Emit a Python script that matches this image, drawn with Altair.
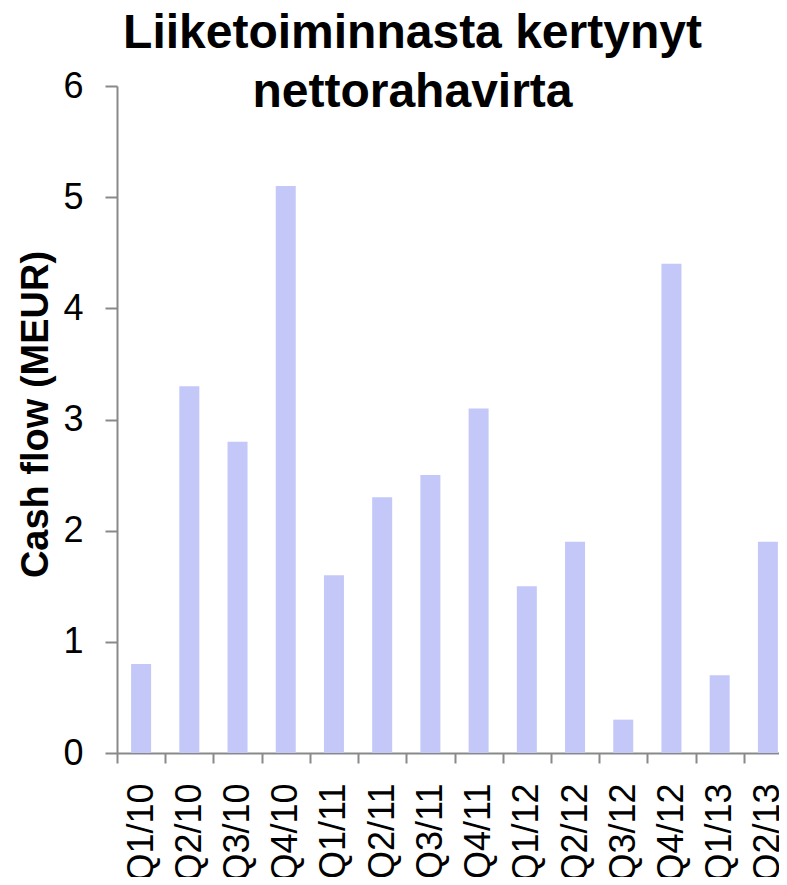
import altair as alt
import pandas as pd

quarters = ["Q1/10", "Q2/10", "Q3/10", "Q4/10", "Q1/11", "Q2/11", "Q3/11",
            "Q4/11", "Q1/12", "Q2/12", "Q3/12", "Q4/12", "Q1/13", "Q2/13"]
cash_flow = [0.8, 3.3, 2.8, 5.1, 1.6, 2.3, 2.5, 3.1, 1.5, 1.9, 0.3, 4.4, 0.7, 1.9]
y_ticks = [0, 1, 2, 3, 4, 5, 6]

df = pd.DataFrame({"q": quarters, "v": cash_flow})

FONT = "Liberation Sans"
AXIS_GRAY = "#898989"

chart = alt.Chart(df).mark_bar(size=20, color="#c4c8f9").encode(
    x=alt.X("q:N", sort=quarters, title=None,
            scale=alt.Scale(paddingInner=0, paddingOuter=0),
            axis=alt.Axis(labelAngle=-90, labelFontSize=36, labelFont=FONT,
                          labelColor="black", tickBand="extent", tickSize=10,
                          tickColor=AXIS_GRAY, tickWidth=2, domainColor=AXIS_GRAY,
                          domainWidth=2, labelPadding=20, labelBaseline="middle")),
    y=alt.Y("v:Q", title="Cash flow (MEUR)",
            scale=alt.Scale(domain=[0, 6], nice=False),
            axis=alt.Axis(values=y_ticks, grid=False, labelFontSize=36,
                          labelFont=FONT, labelColor="black", tickSize=12,
                          tickColor=AXIS_GRAY, tickWidth=2, domainColor=AXIS_GRAY,
                          domainWidth=2, labelPadding=22, titleFontSize=38,
                          titleFont=FONT, titleFontWeight="bold", titleColor="black",
                          titlePadding=7, titleY=328)),
).properties(
    width=675,
    height=667,
    title=alt.TitleParams(
        text=["Liiketoiminnasta kertynyt", "nettorahavirta"],
        font=FONT, fontSize=48, fontWeight="bold", color="black",
        lineHeight=59, anchor="middle", frame="bounds", offset=-49, dx=7,
    ),
    autosize=alt.AutoSizeParams(type="none"),
    padding={"left": 109, "top": 78, "right": -13, "bottom": 124},
).configure_view(stroke=None)

chart.save("out.html", embed_options={"renderer": "svg", "actions": False})
